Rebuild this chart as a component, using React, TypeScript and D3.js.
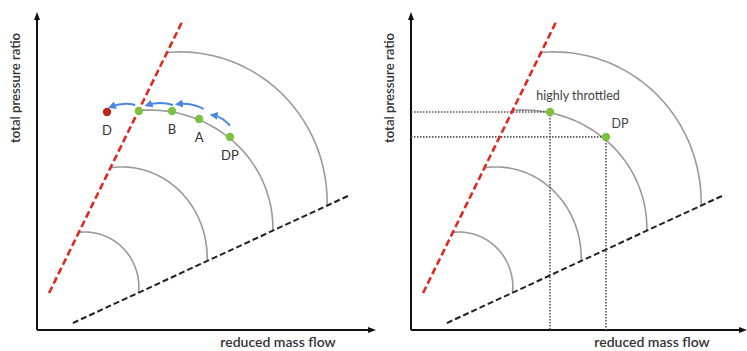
import * as d3 from "d3";

// ---- data (abstract units, 0..100 on both axes) ----
const surgeLine = [
  { x: 3.6, y: 11.7 },
  { x: 43.3, y: 97.5 },
];
const chokeLine = [
  { x: 10.7, y: 2.2 },
  { x: 93.4, y: 42.7 },
];
// speed lines as quarter ellipses: centre x/y, radii
const arcCx = [14.3, 25.4, 33.7, 42.7];
const arcCy = [13.6, 22.8, 32.3, 40.5];
const arcRx = [16.1, 25.4, 36.7, 43.9];
const arcRy = [17.4, 28.8, 37.3, 47.5];

// left panel: operating points
const leftNames = ["D", "", "B", "A", "DP"];
const leftX = [20.9, 30.4, 40.3, 48.4, 57.6];
const leftY = [69.0, 69.3, 69.3, 66.8, 61.1];
const leftColor = ["#b8261c", "#7cc242", "#7cc242", "#7cc242", "#7cc242"];

// blue arrows (from -> to)
const arrowFromX = [57.6, 49.7, 40.6, 29.3];
const arrowFromY = [64.7, 70.0, 71.2, 71.2];
const arrowToX = [52.5, 42.1, 33.0, 22.1];
const arrowToY = [68.0, 71.5, 71.2, 70.6];

// right panel: operating points
const rightNames = ["highly throttled", "DP"];
const rightX = [41.5, 58.2];
const rightY = [69.0, 61.1];

const xLabel = "reduced mass flow";
const yLabel = "total pressure ratio";

const W = 747;
const H = 351;
const FONT = "Lato, 'Open Sans', sans-serif";

type P = { x: number; y: number };

function side(p: P, a: P, b: P) {
  return (b.x - a.x) * (p.y - a.y) - (b.y - a.y) * (p.x - a.x);
}

function bisect(f: (t: number) => number, lo: number, hi: number) {
  let flo = f(lo);
  for (let i = 0; i < 50; i++) {
    const mid = (lo + hi) / 2;
    const fm = f(mid);
    if (Math.sign(fm) === Math.sign(flo)) {
      lo = mid;
      flo = fm;
    } else hi = mid;
  }
  return (lo + hi) / 2;
}

function Panel({ ox, right }: { ox: number; right: boolean }) {
  const x = d3.scaleLinear().domain([0, 100]).range([ox + 37, ox + 372]);
  const y = d3.scaleLinear().domain([0, 100]).range([330, 14]);
  const line = d3
    .line<P>()
    .x((d) => x(d.x))
    .y((d) => y(d.y));

  const arcs = arcCx.map((cx, i) => {
    const pt = (t: number) => ({
      x: cx + arcRx[i] * Math.cos(t),
      y: arcCy[i] + arcRy[i] * Math.sin(t),
    });
    const tEnd = bisect((t) => side(pt(t), chokeLine[0], chokeLine[1]), -Math.PI / 2, 0);
    const tStart = bisect((t) => side(pt(t), surgeLine[0], surgeLine[1]), 0, Math.PI);
    const pts = d3.range(0, 61).map((k) => pt(tEnd + ((tStart - tEnd) * k) / 60));
    return line(pts) as string;
  });

  const x0 = x(0);
  const y0 = y(0);
  const axisRight = right ? W : ox + 376;
  const markerId = "ah" + ox;

  return (
    <g>
      <defs>
        <marker id={markerId} viewBox="0 0 10 10" refX="6" refY="5" markerWidth="4" markerHeight="4" orient="auto">
          <path d="M0,0 L10,5 L0,10 z" fill="#4a86e0" />
        </marker>
      </defs>
      {/* axes */}
      <line x1={x0} y1={y0} x2={x0} y2={17} stroke="#111" strokeWidth={2} />
      <path d={`M${x0 - 3},${20} L${x0},${12} L${x0 + 3},${20} Z`} fill="#111" />
      <line x1={x0} y1={y0} x2={axisRight - 4} y2={y0} stroke="#111" strokeWidth={2} />
      <path d={`M${axisRight - 8},${y0 - 3} L${axisRight},${y0} L${axisRight - 8},${y0 + 3} Z`} fill="#111" />

      {/* speed lines */}
      {arcs.map((d, i) => (
        <path key={i} d={d} fill="none" stroke="#9a9a9a" strokeWidth={1.6} />
      ))}

      {/* right panel dotted guides */}
      {right &&
        rightX.map((vx, i) => (
          <g key={i}>
            <line x1={x(0)} y1={y(rightY[i])} x2={x(vx)} y2={y(rightY[i])} stroke="#555" strokeWidth={1.6} strokeDasharray="1.5,1.5" />
            <line x1={x(vx)} y1={y(rightY[i])} x2={x(vx)} y2={y(0)} stroke="#555" strokeWidth={1.6} strokeDasharray="1.5,1.5" />
          </g>
        ))}

      {/* choke and surge lines */}
      <path d={line(chokeLine) as string} stroke="#222" strokeWidth={2} strokeDasharray="6,3" fill="none" />
      <path d={line(surgeLine) as string} stroke="#e02a1f" strokeWidth={2.6} strokeDasharray="7,3.5" fill="none" />

      {!right &&
        arrowFromX.map((fx, i) => {
          const a = { x: x(fx), y: y(arrowFromY[i]) };
          const b = { x: x(arrowToX[i]), y: y(arrowToY[i]) };
          const mx = (a.x + b.x) / 2;
          const my = (a.y + b.y) / 2 - 4;
          return (
            <path
              key={i}
              d={`M${a.x},${a.y} Q${mx},${my} ${b.x},${b.y}`}
              fill="none"
              stroke="#4a86e0"
              strokeWidth={2}
              markerEnd={`url(#${markerId})`}
            />
          );
        })}

      {!right &&
        leftX.map((vx, i) => (
          <g key={i}>
            <circle cx={x(vx)} cy={y(leftY[i])} r={4.2} fill={leftColor[i]} />
            {leftNames[i] && (
              <text x={x(vx)} y={y(leftY[i]) + 23} textAnchor="middle" fontFamily={FONT} fontSize={13} fill="#333">
                {leftNames[i]}
              </text>
            )}
          </g>
        ))}

      {right &&
        rightX.map((vx, i) => (
          <g key={i}>
            <circle cx={x(vx)} cy={y(rightY[i])} r={4.2} fill="#7cc242" />
            <text
              x={i === 0 ? x(vx) + 28 : x(vx) + 14}
              y={y(rightY[i]) - (i === 0 ? 12 : 9)}
              textAnchor="middle"
              fontFamily={FONT}
              fontSize={12.5}
              fill="#444"
            >
              {rightNames[i]}
            </text>
          </g>
        ))}

      {/* axis titles */}
      <text x={ox + 278} y={347} textAnchor="middle" fontFamily={FONT} fontSize={14} fontWeight={600} fill="#333">
        {xLabel}
      </text>
      <text
        transform={`translate(${ox + 20},${88}) rotate(-90)`}
        textAnchor="middle"
        fontFamily={FONT}
        fontSize={13.2}
        fontWeight={600}
        fill="#333"
      >
        {yLabel}
      </text>
    </g>
  );
}

export default function App() {
  return (
    <svg width={W} height={H} style={{ position: "absolute", left: 0, top: 0, background: "#fff" }}>
      <rect width={W} height={H} fill="#fff" />
      <Panel ox={0} right={false} />
      <Panel ox={374} right={true} />
    </svg>
  );
}
